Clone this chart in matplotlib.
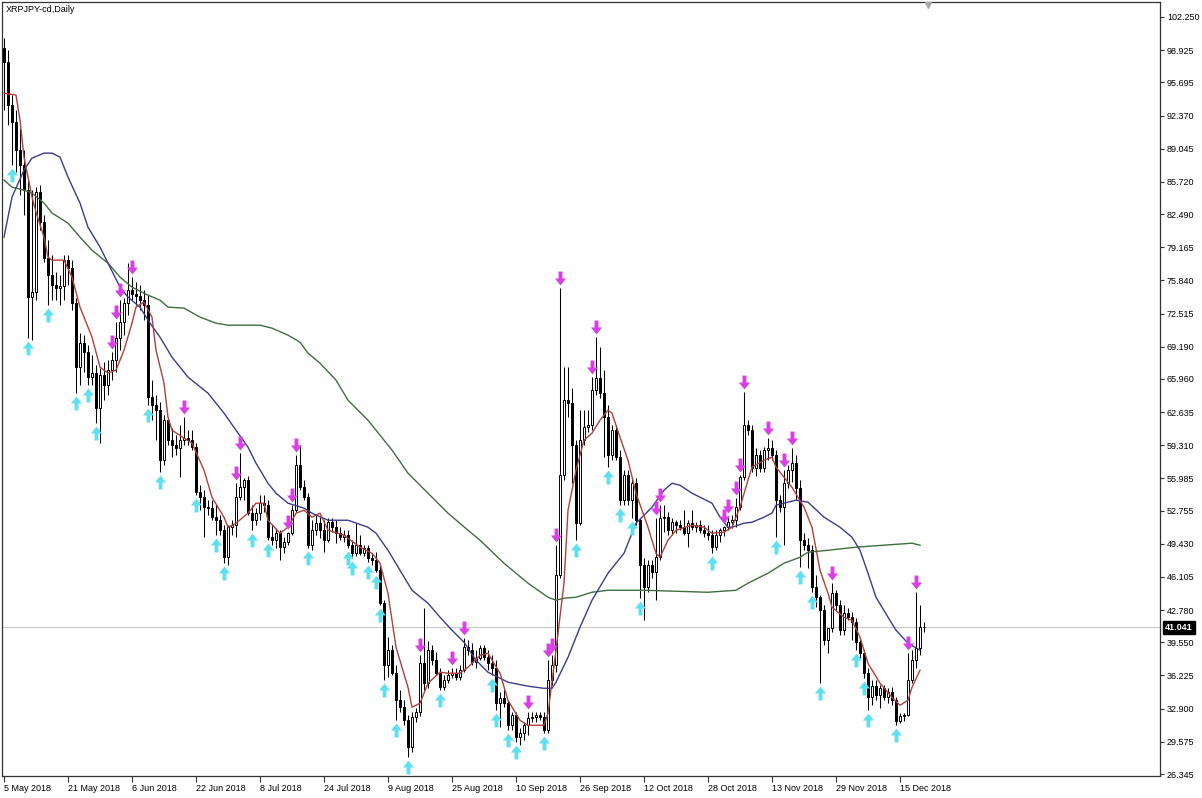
import numpy as np
import pandas as pd
import matplotlib
matplotlib.use('Agg')
import matplotlib.pyplot as plt
from matplotlib.path import Path
from matplotlib import transforms

title = 'XRPJPY-cd,Daily'
start_date = '2018-05-05'

opens = [99.14, 97.73, 93.42, 91.71, 88.9, 87.4, 84.89, 74.16, 74.66, 84.69,
         81.68, 78.07, 76.37, 75.36, 75.06, 75.26, 77.87, 77.07, 73.56, 67.14,
         69.55, 68.64, 66.14, 66.54, 63.03, 66.34, 65.33, 66.84, 67.84, 70.05,
         71.65, 73.56, 74.86, 74.46, 74.26, 73.86, 73.36, 64.13, 63.33, 62.83,
         57.81, 61.82, 59.82, 59.32, 59.02, 59.82, 60.02, 59.82, 59.12, 54.6,
         54.1, 53.1, 53.0, 52.09, 51.79, 50.79, 48.08, 51.09, 51.29, 54.1,
         55.1, 55.81, 52.5, 51.79, 52.5, 53.5, 53.3, 50.09, 49.79, 50.49,
         49.09, 49.59, 50.49, 52.8, 57.31, 55.1, 54.1, 49.29, 50.79, 51.49,
         50.79, 49.79, 51.59, 51.09, 50.49, 50.09, 50.29, 49.29, 48.48, 49.29,
         48.48, 48.99, 47.98, 47.78, 46.78, 43.47, 37.25, 38.76, 36.45, 33.74,
         33.04, 31.73, 29.03, 32.04, 32.54, 37.45, 35.45, 38.76, 37.75, 36.45,
         35.04, 35.75, 36.25, 36.45, 36.05, 36.75, 39.06, 38.76, 37.55, 37.95,
         38.95, 38.05, 37.45, 36.95, 33.44, 33.94, 33.44, 31.23, 32.24, 30.03,
         30.43, 31.23, 31.94, 32.04, 32.24, 32.04, 30.73, 35.75, 37.25, 46.28,
         56.31, 63.83, 63.53, 59.32, 51.49, 59.82, 61.12, 61.32, 64.83, 66.04,
         64.53, 62.12, 58.31, 60.82, 58.11, 53.8, 56.31, 53.8, 55.5, 51.79,
         47.28, 45.08, 47.28, 46.58, 48.08, 52.0, 52.1, 50.79, 51.59, 51.29,
         51.09, 50.49, 51.49, 51.09, 51.29, 50.79, 50.49, 50.29, 49.09, 50.29,
         50.79, 51.09, 51.59, 51.79, 53.1, 56.11, 61.32, 60.82, 57.01, 58.31,
         57.01, 58.82, 59.02, 58.31, 53.8, 53.1, 55.5, 56.81, 57.51, 55.0,
         49.79, 49.29, 48.78, 45.08, 44.07, 42.77, 39.76, 40.96, 44.47, 43.27,
         40.76, 42.47, 42.07, 41.56, 39.56, 38.45, 36.45, 34.04, 35.15, 34.24,
         34.94, 34.04, 34.54, 33.74, 31.63, 32.14, 32.24, 35.75, 37.75, 38.95,
         41.06]

highs = [100.14, 98.94, 94.42, 92.92, 91.11, 88.9, 85.9, 84.89, 85.19, 85.39,
         82.39, 79.88, 78.37, 76.67, 76.37, 78.37, 78.37, 77.87, 74.06, 70.55,
         70.35, 69.35, 68.34, 67.34, 67.04, 67.64, 67.84, 68.66, 71.65, 73.86,
         74.06, 77.57, 76.17, 75.67, 75.36, 74.86, 74.36, 65.84, 64.33, 63.63,
         62.32, 62.02, 61.02, 60.32, 61.32, 62.12, 60.82, 60.82, 59.52, 55.3,
         54.8, 53.8, 53.8, 53.3, 52.3, 51.29, 51.29, 51.79, 55.5, 58.51,
         56.01, 56.21, 53.3, 53.0, 54.3, 54.3, 53.8, 51.29, 50.99, 50.79,
         50.09, 50.59, 53.3, 58.31, 59.32, 55.81, 54.5, 51.79, 52.3, 52.1,
         51.79, 51.99, 51.99, 51.79, 51.09, 50.79, 50.79, 49.79, 51.49, 50.29,
         49.29, 49.29, 48.48, 48.58, 47.28, 43.77, 40.06, 39.26, 37.25, 34.74,
         33.74, 32.24, 32.54, 32.94, 38.25, 42.97, 39.66, 39.26, 38.55, 36.95,
         36.25, 36.75, 36.95, 36.95, 37.25, 39.96, 39.76, 39.46, 38.76, 39.26,
         39.26, 38.76, 38.25, 37.75, 34.54, 34.74, 33.74, 32.54, 32.54, 30.93,
         31.53, 32.54, 32.54, 32.54, 32.54, 32.54, 37.75, 38.25, 49.29, 75.06,
         67.14, 67.14, 65.03, 59.82, 62.83, 62.83, 62.83, 66.14, 70.15, 69.15,
         66.84, 63.33, 61.32, 61.32, 58.82, 56.81, 56.81, 56.01, 56.01, 51.99,
         47.98, 47.78, 47.78, 51.99, 53.3, 53.3, 52.6, 51.99, 51.79, 51.79,
         52.8, 51.79, 52.8, 51.59, 51.79, 51.29, 51.29, 50.79, 50.79, 50.99,
         51.19, 52.2, 52.3, 54.0, 56.31, 64.63, 61.82, 61.32, 59.02, 58.82,
         59.12, 60.02, 59.82, 58.82, 54.3, 56.81, 57.31, 59.02, 58.31, 55.81,
         50.49, 49.99, 49.29, 46.28, 44.27, 43.27, 40.96, 45.48, 44.77, 43.77,
         43.27, 42.97, 42.57, 41.96, 39.96, 38.76, 36.95, 35.75, 35.75, 35.25,
         35.25, 34.94, 35.04, 34.04, 32.44, 32.44, 38.45, 38.76, 44.57, 43.27,
         41.56]

lows = [92.92, 91.41, 87.4, 86.7, 84.39, 82.39, 70.05, 69.85, 73.86, 80.88,
        77.67, 73.36, 73.86, 73.86, 73.36, 73.86, 75.36, 72.86, 64.53, 65.33,
        66.64, 65.33, 65.33, 61.52, 59.52, 63.83, 64.33, 65.84, 66.64, 68.85,
        70.35, 72.36, 73.86, 73.36, 72.86, 71.85, 63.33, 61.82, 59.82, 56.61,
        57.31, 59.32, 58.11, 58.31, 56.11, 59.32, 59.32, 58.82, 54.3, 52.8,
        50.09, 52.3, 51.79, 50.29, 50.29, 47.48, 47.28, 50.29, 50.09, 53.8,
        53.8, 52.3, 50.79, 51.29, 51.79, 52.6, 49.79, 49.29, 48.99, 47.78,
        48.48, 49.29, 50.29, 52.6, 54.8, 53.8, 48.99, 48.78, 50.29, 49.99,
        48.58, 49.59, 50.59, 49.49, 49.79, 49.59, 48.99, 47.98, 48.18, 48.28,
        48.18, 47.58, 47.28, 46.58, 43.27, 35.75, 36.05, 36.25, 31.73, 32.54,
        31.23, 28.02, 28.53, 31.53, 32.14, 34.74, 34.94, 37.25, 36.25, 34.74,
        34.74, 35.45, 35.95, 35.75, 35.75, 36.55, 38.25, 37.25, 36.95, 37.75,
        37.75, 36.75, 36.25, 32.74, 31.03, 33.04, 30.73, 30.73, 29.53, 29.23,
        29.73, 30.23, 31.53, 31.53, 31.73, 30.43, 30.43, 35.25, 36.55, 45.98,
        55.81, 62.12, 55.5, 49.79, 51.29, 59.32, 60.62, 60.82, 64.33, 64.03,
        58.11, 57.11, 57.81, 57.81, 53.3, 53.3, 53.3, 52.0, 51.29, 43.97,
        41.76, 44.57, 45.98, 43.77, 47.78, 50.59, 50.29, 50.29, 50.49, 50.79,
        50.29, 49.09, 50.79, 50.59, 50.49, 50.09, 49.79, 48.48, 48.78, 49.59,
        50.19, 50.79, 50.99, 51.09, 52.8, 55.81, 60.32, 56.61, 56.21, 56.61,
        56.61, 57.81, 57.81, 50.09, 52.6, 49.29, 55.0, 55.6, 53.8, 47.08,
        48.78, 46.98, 44.57, 43.07, 35.45, 39.26, 38.45, 40.56, 42.77, 40.26,
        40.26, 41.76, 39.76, 38.76, 37.95, 35.95, 32.74, 33.24, 33.74, 32.94,
        33.74, 33.44, 33.24, 31.23, 31.43, 31.63, 32.14, 35.45, 36.95, 38.25,
        40.56]

closes = [97.73, 93.42, 91.71, 88.9, 87.4, 84.89, 74.16, 74.66, 84.69, 81.68,
          78.07, 76.37, 75.36, 75.06, 75.26, 77.87, 77.07, 73.56, 67.14, 69.55,
          68.64, 66.14, 66.54, 63.03, 66.34, 65.33, 66.84, 67.84, 70.05, 71.65,
          73.56, 74.86, 74.46, 74.26, 73.86, 73.36, 64.13, 63.33, 62.83, 57.81,
          61.82, 59.82, 59.32, 59.02, 59.82, 60.02, 59.82, 59.12, 54.6, 54.1,
          53.1, 53.0, 52.09, 51.79, 50.79, 48.08, 51.09, 51.29, 54.1, 55.1,
          55.81, 52.5, 51.79, 52.5, 53.5, 53.3, 50.09, 49.79, 50.49, 49.09,
          49.59, 50.49, 52.8, 57.31, 55.1, 54.1, 49.29, 50.79, 51.49, 50.79,
          49.79, 51.59, 51.09, 50.49, 50.09, 50.29, 49.29, 48.48, 49.29, 48.48,
          48.99, 47.98, 47.78, 46.78, 43.47, 37.25, 38.76, 36.45, 33.74, 33.04,
          31.73, 29.03, 32.04, 32.54, 37.45, 35.45, 38.76, 37.75, 36.45, 35.04,
          35.75, 36.25, 36.45, 36.05, 36.75, 39.06, 38.76, 37.55, 37.95, 38.95,
          38.05, 37.45, 36.95, 33.44, 33.94, 33.44, 31.23, 32.24, 30.03, 30.43,
          31.23, 31.94, 32.04, 32.24, 32.04, 30.73, 35.75, 37.25, 46.28, 56.31,
          63.83, 63.53, 59.32, 51.49, 59.82, 61.12, 61.32, 64.83, 66.04, 64.53,
          62.12, 58.31, 60.82, 58.11, 53.8, 56.31, 53.8, 55.5, 51.79, 47.28,
          45.08, 47.28, 46.58, 48.08, 52.0, 52.1, 50.79, 51.59, 51.29, 51.09,
          50.49, 51.49, 51.09, 51.29, 50.79, 50.49, 50.29, 49.09, 50.29, 50.79,
          51.09, 51.59, 51.79, 53.1, 56.11, 61.32, 60.82, 57.01, 58.31, 57.01,
          58.82, 59.02, 58.31, 53.8, 53.1, 55.5, 56.81, 57.51, 55.0, 49.79,
          49.29, 48.78, 45.08, 44.07, 42.77, 39.76, 40.96, 44.47, 43.27, 40.76,
          42.47, 42.07, 41.56, 39.56, 38.45, 36.45, 34.04, 35.15, 34.24, 34.94,
          34.04, 34.54, 33.74, 31.63, 32.14, 32.24, 35.75, 37.75, 38.95, 41.06,
          41.04]

# moving averages (bar index, value)
ma_fast_idx = [0, 3, 4, 5, 7, 8, 10, 11, 12, 15, 17, 19, 22, 24, 26, 28, 30, 32, 33, 35,
               37, 38, 40, 41, 42, 45, 47, 50, 52, 55, 56, 58, 61, 63, 65, 66, 69, 71, 73, 75,
               77, 79, 81, 85, 89, 92, 94, 96, 98, 101, 102, 104, 106, 109, 111, 114, 116, 119, 121, 124,
               126, 129, 131, 135, 136, 138, 140, 141, 143, 145, 147, 149, 151, 152, 154, 156, 158, 161, 163, 164,
               166, 168, 172, 175, 177, 180, 182, 184, 186, 187, 190, 192, 193, 195, 197, 200, 202, 204, 206, 207,
               210, 212, 214, 216, 219, 222, 224, 226, 227, 229]
ma_fast_val = [94.62, 94.42, 91.91, 88.2, 84.19, 82.69, 80.18, 78.17, 77.87, 77.87,
               76.17, 73.16, 70.15, 67.14, 66.54, 66.84, 68.85, 71.55, 73.16, 73.66,
               72.16, 68.85, 65.54, 62.12, 60.82, 60.02, 59.52, 56.81, 54.1, 52.09,
               51.09, 51.49, 52.5, 53.5, 53.5, 51.79, 50.49, 51.09, 52.5, 52.8,
               52.1, 52.5, 50.79, 50.29, 49.09, 48.48, 47.48, 44.47, 39.06, 35.04,
               33.04, 33.44, 35.45, 36.55, 36.45, 36.45, 37.05, 38.25, 38.45, 36.45,
               33.74, 31.73, 31.23, 31.23, 32.44, 38.76, 45.48, 52.8, 56.81, 59.82,
               60.52, 61.82, 62.83, 62.53, 60.12, 57.81, 54.5, 51.09, 48.48, 48.08,
               49.79, 50.79, 51.29, 51.09, 50.49, 50.59, 51.09, 53.1, 55.81, 57.11,
               57.81, 58.11, 57.11, 56.11, 55.1, 53.1, 51.09, 46.78, 44.47, 43.07,
               42.07, 41.76, 40.06, 37.45, 35.45, 34.04, 33.24, 33.74, 35.04, 36.75]

ma_mid_idx = [0, 2, 5, 7, 10, 12, 14, 16, 19, 21, 24, 26, 29, 31, 34, 36, 39, 42, 46, 51,
              55, 58, 61, 63, 66, 68, 71, 75, 77, 81, 86, 91, 93, 96, 99, 102, 106, 109, 112, 115,
              118, 121, 126, 131, 135, 137, 138, 141, 144, 147, 151, 155, 158, 162, 165, 167, 169, 172, 174, 177,
              179, 181, 182, 185, 187, 190, 192, 193, 196, 198, 201, 205, 209, 212, 214, 216, 218, 221, 223, 226,
              229]
ma_mid_val = [80.18, 84.19, 86.9, 88.1, 88.6, 88.6, 88.2, 86.2, 83.59, 81.18,
              79.18, 77.57, 75.16, 74.16, 73.16, 71.85, 70.15, 68.14, 66.14, 64.53,
              62.53, 60.82, 59.12, 57.51, 55.5, 54.5, 53.5, 53.0, 52.5, 51.79,
              51.79, 51.09, 50.49, 48.78, 46.78, 44.77, 43.47, 42.07, 40.76, 39.56,
              37.75, 36.55, 35.55, 35.15, 34.94, 34.94, 35.55, 38.05, 41.06, 43.77,
              46.48, 48.48, 51.49, 53.1, 54.8, 55.5, 55.3, 54.5, 54.1, 53.5,
              52.1, 51.09, 51.09, 51.49, 51.59, 52.1, 52.5, 53.3, 53.6, 53.8,
              53.6, 52.1, 51.09, 50.09, 48.78, 46.48, 44.07, 42.07, 40.76, 39.46,
              38.76]

ma_slow_idx = [0, 2, 5, 7, 10, 12, 16, 19, 22, 26, 29, 32, 36, 39, 41, 45, 49, 53, 56, 64,
               67, 71, 74, 76, 79, 83, 86, 91, 97, 101, 106, 111, 116, 119, 125, 131, 136, 138, 140, 143,
               147, 151, 160, 168, 176, 183, 186, 191, 195, 199, 201, 206, 213, 220, 227, 229]
ma_slow_val = [85.9, 85.19, 84.89, 84.59, 83.59, 82.59, 81.58, 80.18, 78.87, 77.57,
               76.17, 75.16, 74.36, 73.86, 73.16, 73.06, 72.16, 71.55, 71.35, 71.35,
               71.05, 70.35, 69.65, 68.54, 67.54, 65.84, 63.83, 61.82, 58.82, 56.51,
               54.5, 52.5, 50.79, 49.79, 47.48, 45.48, 44.07, 43.77, 43.97, 44.07,
               44.57, 44.77, 44.77, 44.67, 44.57, 44.77, 45.48, 46.48, 47.48, 48.08,
               48.58, 48.78, 49.09, 49.29, 49.49, 49.29]

up_signal_idx = [2, 6, 11, 18, 21, 23, 36, 39, 48, 53, 55, 62, 66, 76, 86, 87, 91, 93, 94, 95,
                 98, 101, 109, 122, 123, 126, 128, 135, 143, 151, 154, 157, 159, 177, 193, 199,
                 202, 204, 213, 215, 216, 223]
down_signal_idx = [27, 28, 29, 32, 45, 58, 59, 71, 72, 73, 104, 112, 115, 131, 136, 137, 138,
                   139, 147, 148, 163, 164, 180, 181, 183, 184, 185, 191, 195, 197, 207, 226, 228]

price_ticks = [102.250, 98.925, 95.695, 92.370, 89.045, 85.720, 82.490, 79.165, 75.840,
               72.515, 69.190, 65.960, 62.635, 59.310, 55.985, 52.755, 49.430, 46.105,
               42.780, 39.550, 36.225, 32.900, 29.575, 26.345]
date_tick_labels = ['5 May 2018', '21 May 2018', '6 Jun 2018', '22 Jun 2018', '8 Jul 2018',
                    '24 Jul 2018', '9 Aug 2018', '25 Aug 2018', '10 Sep 2018', '26 Sep 2018',
                    '12 Oct 2018', '28 Oct 2018', '13 Nov 2018', '29 Nov 2018', '15 Dec 2018']
last_price = 41.041

# ---------------------------------------------------------------
FONT = 'Liberation Sans'
W, H = 1202, 798
fig = plt.figure(figsize=(W / 100, H / 100), dpi=100)
fig.patch.set_facecolor('white')
PL, PR, PT, PB = 2, 1160, 2, 776
ax = fig.add_axes([PL / W, 1 - PB / H, (PR - PL) / W, (PB - PT) / H])
ax.set_facecolor('white')

O = np.array(opens); Hh = np.array(highs); Lw = np.array(lows); C = np.array(closes)
n = len(C)
x = np.arange(n)
dates = pd.date_range(start_date, periods=n, freq='D')

ax.set_xlim(-0.5, -0.5 + (PR - PL) / 4.0)
ax.set_ylim(26.146, 103.754)

# current price line
ax.axhline(last_price, color='#c8c8c8', lw=0.8, zorder=1)

# candles
bull = C >= O
ax.vlines(x, Lw, Hh, color='black', lw=0.75, zorder=2)
body_lo = np.minimum(O, C)
body_h = np.maximum(np.abs(C - O), 0.08)
ax.bar(x, body_h, bottom=body_lo, width=0.72,
       color=np.where(bull, 'white', 'black'), edgecolor='black', linewidth=0.7, zorder=3)

# moving averages
ax.plot(ma_slow_idx, ma_slow_val, color='#3f6e3f', lw=1.0, zorder=4)
ax.plot(ma_mid_idx, ma_mid_val, color='#3b3b8e', lw=1.0, zorder=4)
ax.plot(ma_fast_idx, ma_fast_val, color='#b0403c', lw=1.0, zorder=4)

# signal arrows
up_v = [(-0.14, -0.5), (0.14, -0.5), (0.14, 0.0), (0.4, 0.0), (0.0, 0.5),
        (-0.4, 0.0), (-0.14, 0.0), (-0.14, -0.5)]
codes = [Path.MOVETO] + [Path.LINETO] * 6 + [Path.CLOSEPOLY]
up_marker = Path(up_v, codes)
down_marker = Path([(vx, -vy) for vx, vy in up_v], codes)
tr_up = transforms.offset_copy(ax.transData, fig=fig, x=0, y=-10, units='dots')
tr_dn = transforms.offset_copy(ax.transData, fig=fig, x=0, y=10, units='dots')
ui = np.array(up_signal_idx); di = np.array(down_signal_idx)
ax.plot(ui, Lw[ui], linestyle='none', marker=up_marker, markersize=10,
        color='#5fe0ee', markeredgewidth=0, transform=tr_up, zorder=6)
ax.plot(di, Hh[di], linestyle='none', marker=down_marker, markersize=10,
        color='#d83fe4', markeredgewidth=0, transform=tr_dn, zorder=6)

# shift marker at top
ax.plot([n], [103.45], marker='v', color='#a9a9a9', markersize=5, clip_on=False, zorder=7)

# axes styling
for s in ax.spines.values():
    s.set_color('#333333')
    s.set_linewidth(0.9)
ax.yaxis.tick_right()
ax.set_yticks(price_ticks)
ax.set_yticklabels(['%.3f' % v for v in price_ticks], fontsize=6.5, family=FONT)
ax.tick_params(axis='y', direction='out', length=3, width=0.8, pad=2, colors='#333333',
               labelcolor='black')

tick_dates = pd.to_datetime(date_tick_labels, format='%d %b %Y')
tick_pos = [int(np.where(dates == d)[0][0]) for d in tick_dates]
ax.set_xticks(tick_pos)
ax.set_xticklabels(date_tick_labels, fontsize=6.5, family=FONT, ha='left')
ax.tick_params(axis='x', direction='out', length=4, width=0.8, pad=1.5, colors='#333333',
               labelcolor='black')

# current price label
blend = transforms.blended_transform_factory(ax.transAxes, ax.transData)
ax.text(1.0 + 5 / (PR - PL), last_price, '%.3f' % last_price, transform=blend,
        ha='left', va='center', fontsize=6.5, family=FONT, color='white', fontweight='bold',
        bbox=dict(boxstyle='square,pad=0.2', fc='black', ec='black'), clip_on=False, zorder=8)

fig.text(6 / W, 1 - 10 / H, title, fontsize=6.5, family=FONT, ha='left', va='center')

fig.savefig('out.png', dpi=100, facecolor='white')
